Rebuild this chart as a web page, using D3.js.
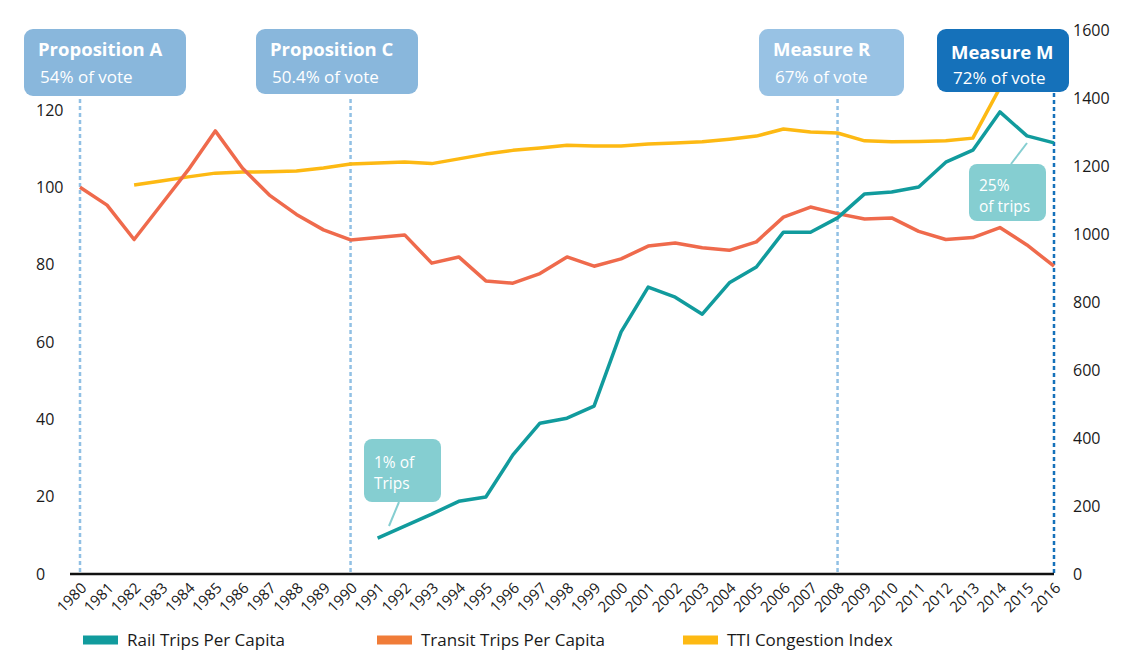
<!DOCTYPE html>
<html>
<head>
<meta charset="utf-8">
<script src="https://cdn.jsdelivr.net/npm/d3@7"></script>
<style>
  body { margin: 0; background: #fff; }
  svg { font-family: "Open Sans", Lato, sans-serif; }
</style>
</head>
<body>
<svg width="1147" height="650"></svg>
<script>
// data
const years = d3.range(1980, 2017);

const railYears = d3.range(1991, 2017);
const railTrips = [9.3, 12.4, 15.5, 18.8, 19.9, 30.8, 39, 40.3, 43.4, 62.6, 74.2, 71.6, 67.2,
  75.3, 79.4, 88.4, 88.4, 92.1, 98.3, 98.8, 100.1, 106.5, 109.6, 119.5, 113.3, 111.5];

const transitYears = d3.range(1980, 2017);
const transitTrips = [100, 95.4, 86.5, 95.5, 104.5, 114.6, 105, 98, 93, 89, 86.4, 87, 87.7,
  80.4, 82, 75.8, 75.2, 77.7, 82, 79.6, 81.5, 84.8, 85.6, 84.4, 83.7, 85.9, 92.3, 94.9,
  93.2, 91.8, 92.1, 88.6, 86.5, 87, 89.6, 85.1, 79.6];

const ttiYears = d3.range(1982, 2015);
const ttiIndex = [1144, 1156, 1168, 1179, 1182, 1183, 1185, 1194, 1206, 1209, 1212, 1207,
  1221, 1235, 1246, 1253, 1261, 1259, 1259, 1265, 1268, 1271, 1279, 1288, 1309, 1300,
  1297, 1274, 1271, 1272, 1274, 1282, 1430];

const leftTicks = [0, 20, 40, 60, 80, 100, 120];
const rightTicks = [0, 200, 400, 600, 800, 1000, 1200, 1400, 1600];

const voteNames = ['Proposition A', 'Proposition C', 'Measure R', 'Measure M'];
const voteShares = ['54% of vote', '50.4% of vote', '67% of vote', '72% of vote'];
const voteYears = [1980, 1990, 2008, 2016];

const seriesNames = ['Rail Trips Per Capita', 'Transit Trips Per Capita', 'TTI Congestion Index'];

const colors = {
  rail: '#119b9d',
  transit: '#ef6a4c',
  transitKey: '#f07c38',
  tti: '#fdb913',
  darkBlue: '#1571ba',
  note: '#85ced1'
};

const font = '"Open Sans", Lato, sans-serif';

const svg = d3.select('svg');

const x = d3.scaleLinear().domain([1980, 2016]).range([80, 1054]);
const yLeft = d3.scaleLinear().domain([0, 120]).range([574, 110]);
const yRight = d3.scaleLinear().domain([0, 1400]).range([574, 98]);

// box layout for the vote call-outs
const boxLayout = [
  { left: 24, width: 162, height: 67, lineTop: 99, fill: '#89b7dc', titleY: 56, subY: 83 },
  { left: 256, width: 162, height: 65, lineTop: 99, fill: '#89b7dc', titleY: 56, subY: 83 },
  { left: 759, width: 145, height: 67, lineTop: 99, fill: '#98c2e4', titleY: 56, subY: 83 },
  { left: 937, width: 132, height: 63, lineTop: 93, fill: colors.darkBlue, titleY: 59, subY: 84 }
];

// dashed vote lines
svg.append('g')
  .selectAll('line')
  .data(voteYears)
  .join('line')
  .attr('x1', d => x(d))
  .attr('x2', d => x(d))
  .attr('y1', (d, i) => boxLayout[i].lineTop)
  .attr('y2', yLeft(0))
  .attr('stroke', (d, i) => i === 3 ? colors.darkBlue : '#91c0e4')
  .attr('stroke-width', 2.5)
  .attr('stroke-dasharray', '4,3');

// baseline
svg.append('line')
  .attr('x1', 70)
  .attr('x2', x(2016))
  .attr('y1', yLeft(0))
  .attr('y2', yLeft(0))
  .attr('stroke', '#111')
  .attr('stroke-width', 2.5);

// axes
const leftAxis = svg.append('g')
  .attr('transform', 'translate(36,0)')
  .call(d3.axisRight(yLeft).tickValues(leftTicks).tickSize(0).tickPadding(0));

const rightAxis = svg.append('g')
  .attr('transform', 'translate(1073,0)')
  .call(d3.axisRight(yRight).tickValues(rightTicks).tickFormat(d3.format('d')).tickSize(0).tickPadding(0));

const xAxis = svg.append('g')
  .attr('transform', `translate(0,${yLeft(0)})`)
  .call(d3.axisBottom(x).tickValues(years).tickFormat(d3.format('d')).tickSize(0));

[leftAxis, rightAxis, xAxis].forEach(g => {
  g.select('.domain').remove();
  g.selectAll('text')
    .attr('fill', '#1a1a1a')
    .style('font-family', font);
});
leftAxis.selectAll('text').style('font-size', '16px');
rightAxis.selectAll('text').style('font-size', '16px');

xAxis.selectAll('text')
  .attr('y', 0)
  .attr('dy', 0)
  .attr('transform', 'translate(7,15) rotate(-45)')
  .style('text-anchor', 'end')
  .style('font-size', '15px');

// lines
const railLine = d3.line()
  .x((d, i) => x(railYears[i]))
  .y(d => yLeft(d));

const transitLine = d3.line()
  .x((d, i) => x(transitYears[i]))
  .y(d => yLeft(d));

const ttiLine = d3.line()
  .x((d, i) => x(ttiYears[i]))
  .y(d => yRight(d));

svg.append('path')
  .attr('d', ttiLine(ttiIndex))
  .attr('fill', 'none')
  .attr('stroke', colors.tti)
  .attr('stroke-width', 3.5)
  .attr('stroke-linejoin', 'round');

svg.append('path')
  .attr('d', transitLine(transitTrips))
  .attr('fill', 'none')
  .attr('stroke', colors.transit)
  .attr('stroke-width', 3.5)
  .attr('stroke-linejoin', 'round');

svg.append('path')
  .attr('d', railLine(railTrips))
  .attr('fill', 'none')
  .attr('stroke', colors.rail)
  .attr('stroke-width', 3.5)
  .attr('stroke-linejoin', 'round');

// vote boxes
const boxes = svg.append('g')
  .selectAll('g')
  .data(voteNames)
  .join('g');

boxes.append('rect')
  .attr('x', (d, i) => boxLayout[i].left)
  .attr('y', 29)
  .attr('width', (d, i) => boxLayout[i].width)
  .attr('height', (d, i) => boxLayout[i].height)
  .attr('rx', 9)
  .attr('fill', (d, i) => boxLayout[i].fill);

boxes.append('text')
  .attr('x', (d, i) => boxLayout[i].left + 14)
  .attr('y', (d, i) => boxLayout[i].titleY)
  .attr('fill', '#fff')
  .style('font-size', '18.5px')
  .style('font-weight', 700)
  .text(d => d);

boxes.append('text')
  .attr('x', (d, i) => boxLayout[i].left + 16)
  .attr('y', (d, i) => boxLayout[i].subY)
  .attr('fill', '#fff')
  .style('font-size', '17px')
  .text((d, i) => voteShares[i]);

// teal call-outs
const notes = [
  { lines: ['1% of', 'Trips'], x: 364, y: 439, w: 77, h: 63, top: 29, from: [399, 502], to: [389, 526] },
  { lines: ['25%', 'of trips'], x: 969, y: 164, w: 77, h: 57, top: 27, from: [1011, 164], to: [1027, 143] }
];

notes.forEach(n => {
  svg.append('line')
    .attr('x1', n.from[0]).attr('y1', n.from[1])
    .attr('x2', n.to[0]).attr('y2', n.to[1])
    .attr('stroke', colors.note)
    .attr('stroke-width', 2);
  svg.append('rect')
    .attr('x', n.x).attr('y', n.y)
    .attr('width', n.w).attr('height', n.h)
    .attr('rx', 8)
    .attr('fill', colors.note);
  svg.append('g')
    .selectAll('text')
    .data(n.lines)
    .join('text')
    .attr('fill', '#fff')
    .style('font-size', '15.5px')
    .attr('x', n.x + 10)
    .attr('y', (d, i) => n.y + n.top + i * 21)
    .text(d => d);
});

// legend
const legendX = [83, 377, 683];
const legendColors = [colors.rail, colors.transitKey, colors.tti];

const legend = svg.append('g')
  .selectAll('g')
  .data(seriesNames)
  .join('g')
  .attr('transform', (d, i) => `translate(${legendX[i]},640)`);

legend.append('rect')
  .attr('y', -4.5)
  .attr('width', 35)
  .attr('height', 9)
  .attr('fill', (d, i) => legendColors[i]);

legend.append('text')
  .attr('x', 44)
  .attr('dy', '0.35em')
  .attr('fill', '#1a1a1a')
  .style('font-size', '17px')
  .text(d => d);
</script>
</body>
</html>
